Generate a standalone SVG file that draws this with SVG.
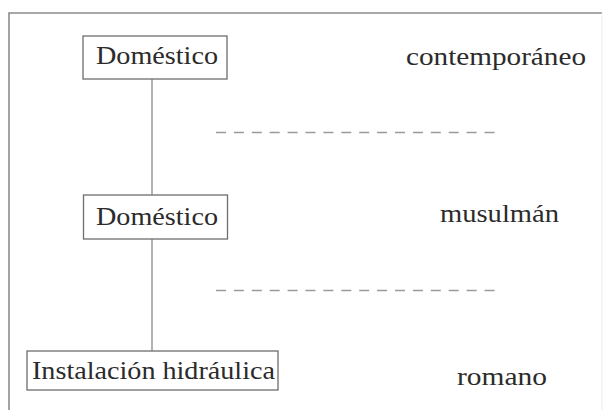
<svg xmlns="http://www.w3.org/2000/svg" width="607" height="410" viewBox="0 0 607 410">
<style>
.t{font-family:'Liberation Serif','DejaVu Serif',serif;font-size:24.5px;fill:#2b2b2b}
.box{fill:#fff;stroke:#6e6e6e;stroke-width:1.3}
.vl{stroke:#8a8a8a;stroke-width:1.3;fill:none}
.dash{stroke:#9a9a9a;stroke-width:1.3;stroke-dasharray:10 7.9;fill:none}
</style>
<rect width="607" height="410" fill="#fff"/>
<g id="frame">
<path d="M9 410 V13 H602" fill="none" stroke="#8c8c8c" stroke-width="1.6"/>
<path d="M602 13 V410" fill="none" stroke="#ececec" stroke-width="1"/>
</g>
<g id="connectors">
<path class="vl" d="M152 79 V195"/>
<path class="vl" d="M152 239 V351"/>
<path class="dash" d="M216 132.5 H496"/>
<path class="dash" d="M216 290.5 H497"/>
</g>
<g id="node-domestico-1">
<rect class="box" x="83" y="36" width="144" height="43"/>
<text class="t" font-family="Liberation Serif, serif" x="96" y="64" textLength="122" lengthAdjust="spacingAndGlyphs">Doméstico</text>
</g>
<g id="node-domestico-2">
<rect class="box" x="83.5" y="195" width="144" height="44"/>
<text class="t" font-family="Liberation Serif, serif" x="96" y="225" textLength="122" lengthAdjust="spacingAndGlyphs">Doméstico</text>
</g>
<g id="node-instalacion">
<rect class="box" x="27" y="351" width="251" height="39"/>
<text class="t" font-family="Liberation Serif, serif" x="32" y="378.5" textLength="243" lengthAdjust="spacingAndGlyphs">Instalación hidráulica</text>
</g>
<g id="label-contemporaneo">
<text class="t" font-family="Liberation Serif, serif" x="406" y="65" textLength="180" lengthAdjust="spacingAndGlyphs">contemporáneo</text>
</g>
<g id="label-musulman">
<text class="t" font-family="Liberation Serif, serif" x="440" y="222" textLength="119" lengthAdjust="spacingAndGlyphs">musulmán</text>
</g>
<g id="label-romano">
<text class="t" font-family="Liberation Serif, serif" x="457" y="385" textLength="90" lengthAdjust="spacingAndGlyphs">romano</text>
</g>
</svg>
